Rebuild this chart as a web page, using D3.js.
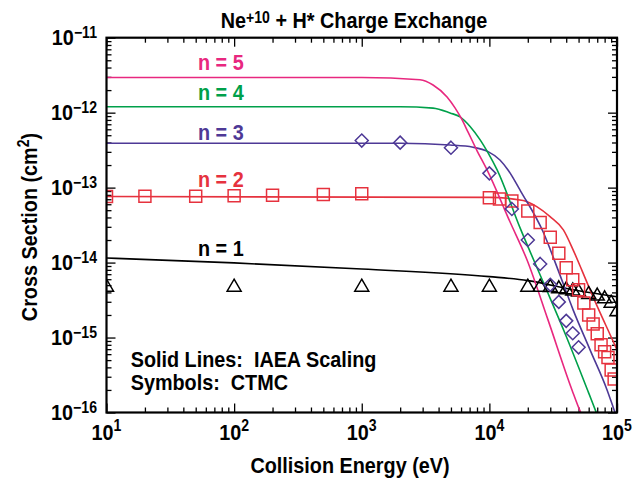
<!DOCTYPE html>
<html>
<head>
<meta charset="utf-8">
<script src="https://cdn.jsdelivr.net/npm/d3@7"></script>
<style>
  body { margin: 0; background: #fff; }
  text { font-family: "Liberation Sans", Arial, Helvetica, sans-serif; font-weight: bold; white-space: pre; }
</style>
</head>
<body>
<div id="chart"></div>
<script>
// IAEA scaling curves (energy in eV, cross section in cm^2)
var lineE1 = [10, 100, 1000, 1e4, 2e4, 5e4, 1e5]
var lineS1 = [1.15e-14, 9.9e-15, 8.2e-15, 6.5e-15, 5.75e-15, 4.2e-15, 3.5e-15]

var lineE2 = [10, 1e4, 1.84e4, 2.35e4, 2.99e4, 3.8e4, 4.53e4, 5.33e4, 6.15e4, 7.38e4, 8.84e4, 1e5]
var lineS2 = [7.6e-14, 7.4e-14, 6.75e-14, 5.58e-14, 4.1e-14, 2.73e-14, 1.48e-14, 7.75e-15, 4.33e-15, 2.13e-15, 1.09e-15, 6.85e-16]

var lineE3 = [10, 2000, 4920, 7450, 9770, 1.21e4, 1.4e4, 1.77e4, 2.64e4, 3.45e4, 4.53e4, 6.15e4, 8.36e4, 9.48e4, 1e5]
var lineS3 = [3.9e-13, 3.9e-13, 3.7e-13, 3.46e-13, 3.02e-13, 2.34e-13, 1.72e-13, 8.8e-14, 2.56e-14, 8.0e-15, 2.34e-15, 6.85e-16, 2.0e-16, 1.09e-16, 8.5e-17]

var lineE4 = [10, 2000, 3620, 4920, 5890, 7060, 8470, 9770, 1.15e4, 1.74e4, 2.64e4, 3.99e4, 6.04e4, 6.85e4, 7.37e4]
var lineS4 = [1.2e-12, 1.2e-12, 1.15e-12, 9.9e-13, 8.8e-13, 6.55e-13, 4.33e-13, 2.9e-13, 1.72e-13, 2.9e-14, 5.5e-15, 1.05e-15, 1.77e-16, 1.02e-16, 7.5e-17]

var lineE5 = [10, 1000, 2860, 3620, 4660, 5380, 6000, 6810, 8010, 9590, 1.45e4, 1.97e4, 2.88e4, 4.44e4, 5.13e4, 5.62e4]
var lineS5 = [2.95e-12, 2.95e-12, 2.75e-12, 2.34e-12, 1.62e-12, 1.16e-12, 8.5e-13, 5.5e-13, 3.1e-13, 1.72e-13, 3.5e-14, 1.09e-14, 1.72e-15, 2.0e-16, 1.05e-16, 7.5e-17]

// CTMC symbols
var ctmcE1 = [10, 100, 1000, 5000, 1e4, 2e4, 2.5e4, 3e4, 3.5e4, 4e4, 4.5e4, 5e4, 6e4, 7e4, 8e4, 9e4, 1e5]
var ctmcS1 = [5.0e-15, 5.0e-15, 5.0e-15, 5.0e-15, 5.0e-15, 5.0e-15, 5.0e-15, 4.95e-15, 4.75e-15, 4.6e-15, 4.45e-15, 4.3e-15, 4.0e-15, 3.8e-15, 3.5e-15, 3.05e-15, 2.35e-15]

var ctmcE2 = [10, 20, 50, 100, 200, 500, 1000, 1e4, 1.2e4, 1.5e4, 2e4, 2.5e4, 3e4, 3.5e4, 4e4, 4.5e4, 5e4, 5.5e4, 6e4, 6.5e4, 7e4, 7.5e4, 8e4, 8.5e4, 9e4, 9.5e4]
var ctmcS2 = [7.6e-14, 7.7e-14, 7.7e-14, 7.8e-14, 7.9e-14, 8.1e-14, 8.3e-14, 7.3e-14, 7.06e-14, 6.65e-14, 4.89e-14, 3.43e-14, 2.17e-14, 1.33e-14, 8.5e-15, 5.9e-15, 4.33e-15, 2.9e-15, 2.0e-15, 1.52e-15, 1.12e-15, 8.0e-16, 6.45e-16, 5.4e-16, 3.7e-16, 2.8e-16]

var ctmcE3 = [1000, 2000, 5000, 1e4, 1.5e4, 2e4, 2.5e4, 3e4, 3.5e4, 4e4, 4.5e4, 5e4]
var ctmcS3 = [4.24e-13, 3.98e-13, 3.41e-13, 1.55e-13, 5.2e-14, 2.0e-14, 9.6e-15, 5.05e-15, 2.99e-15, 1.67e-15, 1.14e-15, 7.4e-16]

var xTicks = [1e1, 1e2, 1e3, 1e4, 1e5], xTickExp = ["1", "2", "3", "4", "5"]
var yTicks = [1e-16, 1e-15, 1e-14, 1e-13, 1e-12, 1e-11], yTickExp = ["\u221216", "\u221215", "\u221214", "\u221213", "\u221212", "\u221211"]

var colors = {1: "#000000", 2: "#e6323e", 3: "#4e3996", 4: "#00a04a", 5: "#e8287f"}
var labelY = {1: 255.5, 2: 186.5, 3: 140, 4: 100, 5: 70}

var SX = 0.88, FS = 22.5, FSUP = 16

var svg = d3.select("#chart").append("svg")
  .attr("width", 633)
  .attr("height", 481)

var x = d3.scaleLog().domain([1e1, 1e5]).range([106.5, 617])
var y = d3.scaleLog().domain([1e-16, 1e-11]).range([412.5, 37.7])

var x0 = x.range()[0], x1 = x.range()[1], y0 = y.range()[0], y1 = y.range()[1]

svg.append("clipPath").attr("id", "plotclip")
  .append("rect")
  .attr("x", x0).attr("y", y1)
  .attr("width", x1 - x0).attr("height", y0 - y1)

// text helper: parts = [[string, isSuperscript], ...]
function label(px, py, anchor, parts, opts) { //{{{
  opts = opts || {}
  var t = svg.append("text")
    .attr("transform", "translate(" + px + "," + py + ")" + (opts.rotate ? " rotate(" + opts.rotate + ")" : "") + " scale(" + SX + ",1)")
    .attr("text-anchor", anchor)
    .style("font-size", FS + "px")
    .attr("fill", opts.color || "#000")
  var up = opts.up || 8, raised = false
  parts.forEach(p => {
    var s = t.append("tspan").text(p[0])
    if (p[1]) {
      s.style("font-size", FSUP + "px").attr("dy", -up)
      raised = true
    } else if (raised) {
      s.attr("dy", up)
      raised = false
    }
  })
  return t
} //}}}

// ticks: major & minor, all pointing inward
function isMajor(t) { return Math.abs(Math.log10(t) - Math.round(Math.log10(t))) < 1e-6 }
var xMinor = x.ticks().filter(t => !isMajor(t))
var yMinor = y.ticks().filter(t => !isMajor(t))
var noLabel = () => ""

function tickAxis(axis, values, size, tx, ty) {
  var g = svg.append("g")
    .attr("transform", "translate(" + tx + "," + ty + ")")
    .call(axis.tickValues(values).tickSize(size).tickSizeOuter(0).tickFormat(noLabel))
  g.select(".domain").remove()
  g.selectAll("line").attr("stroke", "#000").attr("stroke-width", 1.3)
}

tickAxis(d3.axisTop(x), xTicks, 9, 0, y0)
tickAxis(d3.axisTop(x), xMinor, 5, 0, y0)
tickAxis(d3.axisBottom(x), xTicks, 9, 0, y1)
tickAxis(d3.axisBottom(x), xMinor, 5, 0, y1)
tickAxis(d3.axisRight(y), yTicks, 9, x0, 0)
tickAxis(d3.axisRight(y), yMinor, 5, x0, 0)
tickAxis(d3.axisLeft(y), yTicks, 9, x1, 0)
tickAxis(d3.axisLeft(y), yMinor, 5, x1, 0)

// curves
var curves = [
  {n: 1, E: lineE1, S: lineS1},
  {n: 2, E: lineE2, S: lineS2},
  {n: 3, E: lineE3, S: lineS3},
  {n: 4, E: lineE4, S: lineS4},
  {n: 5, E: lineE5, S: lineS5}
]

var line = d3.line()
  .x(d => x(d[0]))
  .y(d => y(d[1]))
  .curve(d3.curveMonotoneX)

var plot = svg.append("g").attr("clip-path", "url(#plotclip)")

curves.forEach(c => {
  plot.append("path")
    .datum(d3.zip(c.E, c.S))
    .attr("fill", "none")
    .attr("stroke", colors[c.n])
    .attr("stroke-width", 1.6)
    .attr("stroke-linejoin", "round")
    .attr("d", line)
})

// symbols
var shapes = {
  1: "M0,-6L7,6L-7,6Z",
  2: "M-6,-6H6V6H-6Z",
  3: "M0,-6.5L6.5,0L0,6.5L-6.5,0Z"
}
var symbolSets = [
  {n: 1, E: ctmcE1, S: ctmcS1},
  {n: 2, E: ctmcE2, S: ctmcS2},
  {n: 3, E: ctmcE3, S: ctmcS3}
]

symbolSets.forEach(s => {
  plot.append("g").selectAll("path")
    .data(d3.zip(s.E, s.S))
    .join("path")
    .attr("transform", d => "translate(" + x(d[0]) + "," + y(d[1]) + ")")
    .attr("d", shapes[s.n])
    .attr("fill", "none")
    .attr("stroke", colors[s.n])
    .attr("stroke-width", 1.5)
})

// frame
svg.append("rect")
  .attr("x", x0).attr("y", y1)
  .attr("width", x1 - x0).attr("height", y0 - y1)
  .attr("fill", "none")
  .attr("stroke", "#000")
  .attr("stroke-width", 2.2)

// tick labels
xTicks.forEach((t, i) => label(x(t), 440, "middle", [["10"], [xTickExp[i], true]], {up: 9}))
yTicks.forEach((t, i) => label(97, y(t) + 7.5, "end", [["10"], [yTickExp[i], true]], {up: 7.5}))

// titles
label(354, 28.3, "middle", [["Ne"], ["+10", true], [" + H* Charge Exchange"]], {up: 5})
label(350, 473, "middle", [["Collision Energy (eV)"]])
label(37, 227, "middle", [["Cross Section (cm"], ["2", true], [")"]], {rotate: -90, up: 8})

// n labels
d3.range(1, 6).forEach(n => label(198, labelY[n], "start", [["n = " + n]], {color: colors[n]}))

// legend text
label(130.7, 366.7, "start", [["Solid Lines:  IAEA Scaling"]])
label(130.7, 390, "start", [["Symbols:  CTMC"]])
</script>
</body>
</html>
